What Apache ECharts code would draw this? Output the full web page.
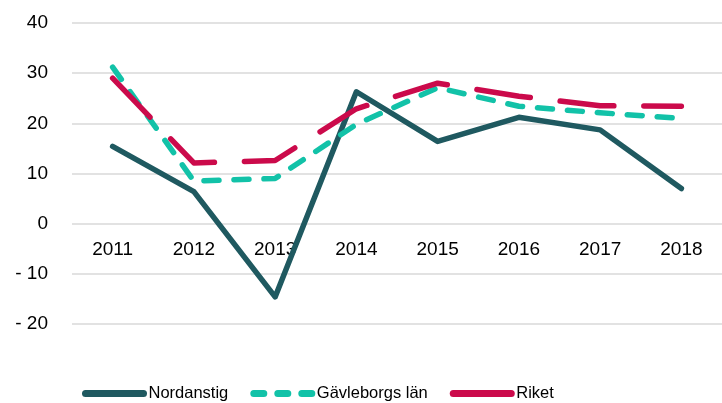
<!DOCTYPE html>
<html>
<head>
<meta charset="utf-8">
<script src="https://cdn.jsdelivr.net/npm/echarts@6/dist/echarts.min.js"></script>
<style>
  html, body { margin: 0; padding: 0; background: #fff; }
  #chart { width: 722px; height: 403px; }
</style>
</head>
<body>
<div id="chart"></div>
<script>
const years = ['2011', '2012', '2013', '2014', '2015', '2016', '2017', '2018']
const nordanstig = [15.4, 6.4, -14.6, 26.3, 16.4, 21.2, 18.7, 7.0]
const gavleborg = [31.2, 8.5, 9.0, 19.8, 27.1, 23.4, 22.1, 21.0]
const riket = [29.0, 12.1, 12.6, 22.9, 28.0, 25.4, 23.5, 23.4]

const cNord = '#1F5960'
const cGavle = '#12C2A8'
const cRiket = '#CB0A4B'
const font = 'Liberation Sans, Arial, sans-serif'

const chart = echarts.init(document.getElementById('chart'))

const option = {
  animation: false,
  grid: { left: 72, right: 0, top: 23, bottom: 79 },
  legend: {
    top: 385,
    left: 82,
    padding: 0,
    itemWidth: 58,
    itemHeight: 14,
    itemGap: 22,
    itemStyle: { opacity: 0 },
    lineStyle: { width: 7 },
    textStyle: { fontFamily: font, fontSize: 16.5, color: '#000' },
    data: [
      { name: 'Nordanstig' },
      { name: 'Gävleborgs län', lineStyle: { type: [10, 14], width: 7 } },
      { name: 'Riket', lineStyle: { type: 'solid', width: 7 } }
    ]
  },
  xAxis: {
    type: 'category',
    data: years,
    boundaryGap: true,
    offset: -100,
    axisLine: { show: false, onZero: false },
    axisTick: { show: false },
    axisLabel: { fontFamily: font, fontSize: 19, color: '#000', margin: 16 }
  },
  yAxis: {
    type: 'value',
    min: -20,
    max: 40,
    interval: 10,
    axisLine: { show: false },
    axisTick: { show: false },
    splitLine: { lineStyle: { color: '#d9d9d9', width: 1.5 } },
    axisLabel: {
      fontFamily: font, fontSize: 19, color: '#000', margin: 24,
      formatter: v => v < 0 ? '- ' + Math.abs(v) : String(v)
    }
  },
  series: [
    {
      name: 'Nordanstig', type: 'line', data: nordanstig,
      symbol: 'none', color: cNord, z: 3,
      lineStyle: { width: 5.5, color: cNord, cap: 'round', join: 'round' }
    },
    {
      name: 'Gävleborgs län', type: 'line', data: gavleborg,
      symbol: 'none', color: cGavle, z: 4,
      lineStyle: { width: 5.5, color: cGavle, type: [15, 15], cap: 'round', join: 'round' }
    },
    {
      name: 'Riket', type: 'line', data: riket,
      symbol: 'none', color: cRiket, z: 5,
      lineStyle: { width: 5.5, color: cRiket, type: [54, 30], cap: 'round', join: 'round' }
    }
  ]
}

chart.setOption(option)
</script>
</body>
</html>
